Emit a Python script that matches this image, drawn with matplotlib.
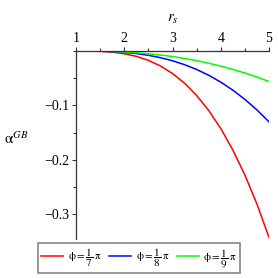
import matplotlib
matplotlib.use("Agg")
import matplotlib.pyplot as plt
from matplotlib.ticker import MultipleLocator

plt.rcParams['font.family'] = ['Liberation Serif', 'DejaVu Serif']
plt.rcParams['mathtext.fontset'] = 'stix'

r_s = [1.0, 1.25, 1.5, 1.75, 2.0, 2.25, 2.5, 2.75, 3.0, 3.25, 3.5, 3.75, 4.0, 4.25, 4.5, 4.75, 5.0]
alpha_pi7 = [0.0, -0.0001, -0.0006, -0.0021, -0.0050, -0.0098, -0.0172, -0.0275, -0.0413,
             -0.0591, -0.0816, -0.1091, -0.1422, -0.1816, -0.2276, -0.2809, -0.342]
alpha_pi8 = [0.0, -0.00005, -0.0003, -0.0011, -0.0025, -0.0047, -0.0079, -0.0122, -0.0179,
             -0.0251, -0.0339, -0.0445, -0.0571, -0.0718, -0.0888, -0.1081, -0.130]
alpha_pi9 = [0.0, -0.00006, -0.0003, -0.0009, -0.0019, -0.0032, -0.0051, -0.0074, -0.0102,
             -0.0137, -0.0177, -0.0224, -0.0277, -0.0337, -0.0404, -0.0478, -0.056]
labels = [r'$\mathrm{\phi} = \dfrac{1}{7}\,\mathrm{\pi}$',
          r'$\mathrm{\phi} = \dfrac{1}{8}\,\mathrm{\pi}$',
          r'$\mathrm{\phi} = \dfrac{1}{9}\,\mathrm{\pi}$']
colors = ['#ff0000', '#0000ff', '#00ff00']
x_ticks = [1, 2, 3, 4, 5]
y_ticks = [-0.1, -0.2, -0.3]

fig = plt.figure(figsize=(2.78, 2.78), dpi=100)
ax = fig.add_axes([76/278, 1-239/278, 193/278, 188/278])

for y, c, lab in zip([alpha_pi7, alpha_pi8, alpha_pi9], colors, labels):
    ax.plot(r_s, y, color=c, lw=1.1, label=lab)

ax.set_xlim(1, 5)
ax.set_ylim(-0.345, 0)
ax.spines['bottom'].set_visible(False)
ax.spines['right'].set_visible(False)
for s in ['top', 'left']:
    ax.spines[s].set_linewidth(0.9)
    ax.spines[s].set_color('#333333')

ax.xaxis.tick_top()
ax.set_xticks(x_ticks)
ax.set_xticklabels([str(t) for t in x_ticks])
ax.xaxis.set_minor_locator(MultipleLocator(0.5))
ax.set_yticks(y_ticks)
ax.set_yticklabels([('\u22120.%d' % int(round(-t*10))) for t in y_ticks])
ax.yaxis.set_minor_locator(MultipleLocator(0.05))
ax.tick_params(axis='both', which='major', length=3, width=0.8, labelsize=10, pad=1.5, color='#333333')
ax.tick_params(axis='both', which='minor', length=2, width=0.8, color='#333333')

fig.text(173/278, 1-19/278, r'$r_s$', fontsize=11, ha='center', va='center')
fig.text(16/278, 1-139/278, r'$\mathrm{\alpha}^{GB}$', fontsize=11, ha='center', va='center')

leg = fig.legend(loc='center', bbox_to_anchor=(139/278, 1-258/278), ncol=3,
                 fontsize=8, frameon=True, fancybox=False, handlelength=2.0,
                 columnspacing=0.7, handletextpad=0.4, borderpad=0.3, borderaxespad=0)
leg.get_frame().set_edgecolor('#666666')
leg.get_frame().set_linewidth(1.2)

fig.savefig('out.png', dpi=100)
